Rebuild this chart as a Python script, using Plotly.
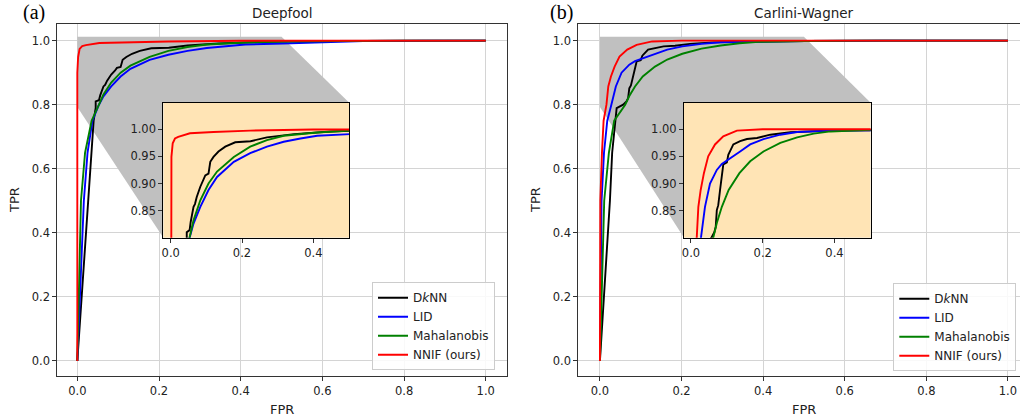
import plotly.graph_objects as go

# ---------------- data ----------------
# Deepfool
df_dknn_fpr = [0, 0.025, 0.040, 0.045, 0.045, 0.053, 0.056, 0.064, 0.068, 0.073, 0.083, 0.092, 0.097, 0.106, 0.111, 0.120, 0.134, 0.153, 0.181, 0.224, 0.270, 0.346, 0.450, 0.600, 0.800, 1.0]
df_dknn_tpr = [0, 0.45, 0.75, 0.790, 0.810, 0.814, 0.829, 0.857, 0.862, 0.875, 0.894, 0.906, 0.915, 0.918, 0.940, 0.949, 0.959, 0.968, 0.976, 0.978, 0.985, 0.991, 0.996, 0.999, 1.0, 1.0]
df_lid_fpr = [0, 0.016, 0.025, 0.037, 0.053, 0.064, 0.083, 0.106, 0.130, 0.177, 0.223, 0.270, 0.317, 0.364, 0.411, 0.503, 0.600, 0.700, 0.850, 1.0]
df_lid_tpr = [0, 0.50, 0.65, 0.75, 0.80, 0.826, 0.857, 0.888, 0.912, 0.940, 0.956, 0.968, 0.977, 0.983, 0.988, 0.991, 0.996, 0.999, 1.0, 1.0]
df_mah_fpr = [0, 0.009, 0.019, 0.035, 0.053, 0.064, 0.083, 0.106, 0.130, 0.177, 0.223, 0.270, 0.317, 0.411, 0.503, 0.600, 0.800, 1.0]
df_mah_tpr = [0, 0.50, 0.65, 0.75, 0.80, 0.832, 0.869, 0.900, 0.922, 0.949, 0.968, 0.980, 0.988, 0.994, 0.9975, 0.999, 1.0, 1.0]
df_nnif_fpr = [0, 0.0, 0.002, 0.0056, 0.012, 0.021, 0.054, 0.120, 0.223, 0.400, 1.0]
df_nnif_tpr = [0, 0.90, 0.949, 0.974, 0.983, 0.986, 0.9926, 0.995, 0.9975, 0.9995, 1.0]

# Carlini-Wagner
cw_dknn_fpr = [0, 0.0245, 0.030, 0.037, 0.041, 0.057, 0.065, 0.069, 0.072, 0.076, 0.081, 0.086, 0.090, 0.100, 0.104, 0.118, 0.137, 0.156, 0.184, 0.221, 0.277, 0.389, 0.503, 0.700, 1.0]
cw_dknn_tpr = [0, 0.50, 0.65, 0.742, 0.789, 0.800, 0.810, 0.820, 0.851, 0.860, 0.888, 0.919, 0.935, 0.939, 0.953, 0.972, 0.978, 0.982, 0.984, 0.990, 0.9945, 0.9975, 0.999, 1.0, 1.0]
cw_lid_fpr = [0, 0.004, 0.010, 0.018, 0.028, 0.033, 0.039, 0.053, 0.072, 0.086, 0.109, 0.137, 0.165, 0.202, 0.249, 0.296, 0.389, 0.503, 0.700, 1.0]
cw_lid_tpr = [0, 0.50, 0.65, 0.75, 0.80, 0.827, 0.857, 0.900, 0.925, 0.936, 0.947, 0.959, 0.972, 0.982, 0.990, 0.995, 0.9975, 0.999, 1.0, 1.0]
cw_mah_fpr = [0, 0.0105, 0.022, 0.035, 0.062, 0.072, 0.086, 0.105, 0.135, 0.165, 0.202, 0.249, 0.296, 0.342, 0.389, 0.503, 0.650, 1.0]
cw_mah_tpr = [0, 0.50, 0.65, 0.75, 0.80, 0.827, 0.857, 0.888, 0.919, 0.941, 0.959, 0.975, 0.985, 0.992, 0.996, 0.999, 1.0, 1.0]
cw_nnif_fpr = [0, 0.001, 0.005, 0.009, 0.016, 0.0205, 0.027, 0.036, 0.048, 0.067, 0.090, 0.128, 0.200, 1.0]
cw_nnif_tpr = [0, 0.50, 0.65, 0.75, 0.80, 0.857, 0.888, 0.919, 0.950, 0.972, 0.987, 0.9975, 1.0, 1.0]

method_names = ["D<i>k</i>NN", "LID", "Mahalanobis", "NNIF (ours)"]
method_colors = ["#000000", "#0000ff", "#008000", "#ff0000"]
panel_titles = ["Deepfool", "Carlini-Wagner"]
panel_letters = ["(a)", "(b)"]
main_ticks = [0.0, 0.2, 0.4, 0.6, 0.8, 1.0]
inset_xticks = [0.0, 0.2, 0.4]
inset_yticks = [0.85, 0.90, 0.95, 1.00]

panels = [
    [(df_dknn_fpr, df_dknn_tpr), (df_lid_fpr, df_lid_tpr), (df_mah_fpr, df_mah_tpr), (df_nnif_fpr, df_nnif_tpr)],
    [(cw_dknn_fpr, cw_dknn_tpr), (cw_lid_fpr, cw_lid_tpr), (cw_mah_fpr, cw_mah_tpr), (cw_nnif_fpr, cw_nnif_tpr)],
]

# ---------------- layout geometry ----------------
W, H = 1020, 419
FONT = "DejaVu Sans"
TXT = "#222222"
GRID = "#d4d4d4"
SPINE = "#333333"

def px_x(p):
    return p / W

def px_y(p):
    return 1 - p / H

main_dom_x = [[px_x(57.3), px_x(507.0)], [px_x(578.3), 1.0]]
main_dom_y = [px_y(376.3), px_y(24.3)]
main_rng_x = [[-0.049, 1.052], [-0.053, 1.0296]]
main_rng_y = [-0.048, 1.051]
ins_dom_x = [[px_x(163.3), px_x(349.3)], [px_x(684.0), px_x(870.7)]]
ins_dom_y = [px_y(237.7), px_y(102.7)]
ins_rng_x = [[-0.0208, 0.501], [-0.0195, 0.501]]
ins_rng_y = [0.80, 1.049]
zoom_box = [0.0, 0.5, 0.793, 1.012]  # zoomed region marked on the main axes

fig = go.Figure()

for p in range(2):
    main_ax = 1 + 2 * p
    ins_ax = 2 + 2 * p
    mx = "x" if main_ax == 1 else f"x{main_ax}"
    my = "y" if main_ax == 1 else f"y{main_ax}"
    ix, iy = f"x{ins_ax}", f"y{ins_ax}"
    leg = "legend" if p == 0 else "legend2"
    for k, (fx, ty) in enumerate(panels[p]):
        fig.add_trace(go.Scatter(x=fx, y=ty, mode="lines", name=method_names[k],
                                 line=dict(color=method_colors[k], width=1.9),
                                 xaxis=mx, yaxis=my, legend=leg, showlegend=True,
                                 hoverinfo="skip"))
    for k, (fx, ty) in enumerate(panels[p]):
        fig.add_trace(go.Scatter(x=fx, y=ty, mode="lines", name=method_names[k],
                                 line=dict(color=method_colors[k], width=1.9),
                                 xaxis=ix, yaxis=iy, showlegend=False,
                                 hoverinfo="skip"))

layout = dict(
    width=W, height=H,
    margin=dict(l=0, r=0, t=0, b=0, autoexpand=False),
    paper_bgcolor="white", plot_bgcolor="white",
    font=dict(family=FONT, size=11.5, color=TXT),
    shapes=[], annotations=[],
)

axis_common = dict(ticks="outside", ticklen=4, tickwidth=1, tickcolor=SPINE,
                   showline=True, linecolor=SPINE, linewidth=1, mirror=True,
                   zeroline=False, automargin=False,
                   tickfont=dict(family=FONT, size=11.5, color=TXT))

for p in range(2):
    main_ax = 1 + 2 * p
    ins_ax = 2 + 2 * p
    mk = "xaxis" if main_ax == 1 else f"xaxis{main_ax}"
    mky = "yaxis" if main_ax == 1 else f"yaxis{main_ax}"
    anchor_x = "y" if main_ax == 1 else f"y{main_ax}"
    anchor_y = "x" if main_ax == 1 else f"x{main_ax}"
    layout[mk] = dict(domain=main_dom_x[p], range=main_rng_x[p], anchor=anchor_x,
                      tickvals=main_ticks, tickformat=".1f",
                      showgrid=True, gridcolor=GRID, gridwidth=1, **axis_common)
    layout[mky] = dict(domain=main_dom_y, range=main_rng_y, anchor=anchor_y,
                       tickvals=main_ticks, tickformat=".1f",
                       showgrid=True, gridcolor=GRID, gridwidth=1, **axis_common)
    layout[f"xaxis{ins_ax}"] = dict(domain=ins_dom_x[p], range=ins_rng_x[p], anchor=f"y{ins_ax}",
                                    tickvals=inset_xticks, tickformat=".1f",
                                    showgrid=False, **{**axis_common, "linecolor": "#000000"})
    layout[f"yaxis{ins_ax}"] = dict(domain=ins_dom_y, range=ins_rng_y, anchor=f"x{ins_ax}",
                                    tickvals=inset_yticks, tickformat=".2f",
                                    showgrid=False, **{**axis_common, "linecolor": "#000000"})

    # inset corners expressed in main-axes data coordinates
    mx0, mx1 = main_rng_x[p]
    my0, my1 = main_rng_y
    dx0, dx1 = main_dom_x[p]
    dy0, dy1 = main_dom_y
    def to_mx(px_frac):
        return mx0 + (px_frac - dx0) / (dx1 - dx0) * (mx1 - mx0)
    def to_my(py_frac):
        return my0 + (py_frac - dy0) / (dy1 - dy0) * (my1 - my0)
    ixl, ixr = to_mx(ins_dom_x[p][0]), to_mx(ins_dom_x[p][1])
    iyb, iyt = to_my(ins_dom_y[0]), to_my(ins_dom_y[1])
    zx0, zx1, zy0, zy1 = zoom_box
    path = (f"M {zx0},{zy1} L {zx1},{zy1} L {ixr},{iyt} L {ixr},{iyb} "
            f"L {ixl},{iyb} L {zx0},{zy0} Z")
    mxr = "x" if main_ax == 1 else f"x{main_ax}"
    myr = "y" if main_ax == 1 else f"y{main_ax}"
    layout["shapes"].append(dict(type="path", path=path, xref=mxr, yref=myr,
                                 fillcolor="#c0c0c0", line=dict(width=0), layer="between"))
    # inset background
    layout["shapes"].append(dict(type="rect", xref=f"x{ins_ax}", yref=f"y{ins_ax}",
                                 x0=ins_rng_x[p][0], x1=ins_rng_x[p][1],
                                 y0=ins_rng_y[0], y1=ins_rng_y[1],
                                 fillcolor="#ffe4b5", line=dict(width=0), layer="below"))

    cx = (main_dom_x[p][0] + main_dom_x[p][1]) / 2 if p == 0 else px_x(803.5)
    layout["annotations"].append(dict(text=panel_titles[p], x=cx, y=px_y(13), xref="paper", yref="paper",
                                      showarrow=False, xanchor="center", yanchor="middle",
                                      font=dict(family=FONT, size=13.5, color=TXT)))
    lx = px_x(34) if p == 0 else px_x(561.7)
    layout["annotations"].append(dict(text=panel_letters[p], x=lx, y=px_y(13), xref="paper", yref="paper",
                                      showarrow=False, xanchor="center", yanchor="middle",
                                      font=dict(family="Liberation Serif", size=20, color="#000000")))
    fx = px_x(282) if p == 0 else px_x(803.5)
    layout["annotations"].append(dict(text="FPR", x=fx, y=px_y(409), xref="paper", yref="paper",
                                      showarrow=False, xanchor="center", yanchor="middle",
                                      font=dict(family=FONT, size=13, color=TXT)))
    tx = px_x(15) if p == 0 else px_x(536)
    layout["annotations"].append(dict(text="TPR", x=tx, y=px_y(200), xref="paper", yref="paper",
                                      showarrow=False, xanchor="center", yanchor="middle", textangle=-90,
                                      font=dict(family=FONT, size=13, color=TXT)))

legend_common = dict(xref="paper", yref="paper", xanchor="left", yanchor="top",
                     bgcolor="rgba(255,255,255,0.85)", bordercolor="#cccccc", borderwidth=1,
                     font=dict(family=FONT, size=12, color=TXT), tracegroupgap=0)
layout["legend"] = dict(x=px_x(372), y=px_y(282.3), **legend_common)
layout["legend2"] = dict(x=px_x(893.3), y=px_y(283.3), **legend_common)

fig.update_layout(**layout)
fig.write_html("out.html", config={"displayModeBar": False, "staticPlot": True},
               post_script="document.body.style.margin='0px';document.body.style.overflow='hidden';")
